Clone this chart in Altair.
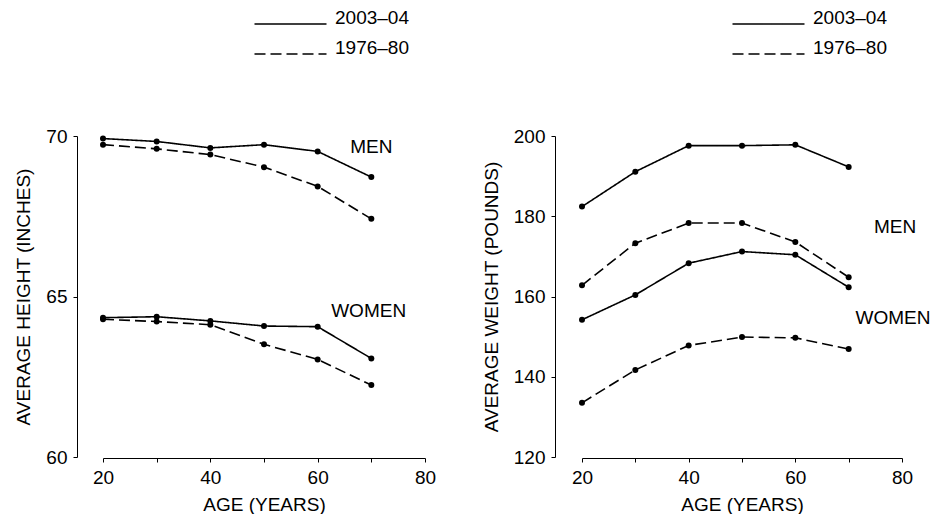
import altair as alt
import pandas as pd

ages = [20, 30, 40, 50, 60, 70]
periods = ["2003–04", "1976–80"]
sexes = ["MEN", "WOMEN"]

height_men_2003 = [69.92, 69.83, 69.63, 69.73, 69.52, 68.72]
height_men_1976 = [69.73, 69.60, 69.42, 69.03, 68.43, 67.42]
height_women_2003 = [64.34, 64.37, 64.24, 64.08, 64.06, 63.07]
height_women_1976 = [64.29, 64.22, 64.12, 63.51, 63.04, 62.24]

weight_men_2003 = [182.4, 191.1, 197.6, 197.6, 197.8, 192.3]
weight_men_1976 = [162.8, 173.3, 178.3, 178.3, 173.6, 164.8]
weight_women_2003 = [154.2, 160.4, 168.3, 171.2, 170.4, 162.3]
weight_women_1976 = [133.5, 141.7, 147.8, 149.9, 149.7, 146.9]

label_text = ["MEN", "WOMEN"]
height_label_age = [70.0, 69.5]
height_label_value = [69.66, 64.55]
weight_label_age = [78.7, 78.3]
weight_label_value = [177.2, 154.6]

x_ticks = [20, 30, 40, 50, 60, 70, 80]
height_ticks = [60, 65, 70]
weight_ticks = [120, 140, 160, 180, 200]

FONT = "Liberation Sans"


def long_df(men_new, men_old, women_new, women_old):
    rows = []
    for sex, period, vals in [
        ("MEN", periods[0], men_new),
        ("MEN", periods[1], men_old),
        ("WOMEN", periods[0], women_new),
        ("WOMEN", periods[1], women_old),
    ]:
        for a, v in zip(ages, vals):
            rows.append({"age": a, "value": v, "sex": sex, "period": period})
    return pd.DataFrame(rows)


height_df = long_df(height_men_2003, height_men_1976, height_women_2003, height_women_1976)
weight_df = long_df(weight_men_2003, weight_men_1976, weight_women_2003, weight_women_1976)
height_labels = pd.DataFrame({"age": height_label_age, "value": height_label_value, "label": label_text})
weight_labels = pd.DataFrame({"age": weight_label_age, "value": weight_label_value, "label": label_text})


def panel(df, labels, ydomain, yticks, ytitle, yoffset, legend_x, legend_y, width, height):
    x = alt.X(
        "age:Q",
        scale=alt.Scale(domain=[20, 80], nice=False, zero=False),
        axis=alt.Axis(
            values=x_ticks,
            labelExpr="datum.value % 20 == 0 ? datum.label : ''",
            title="AGE (YEARS)",
            offset=1,
            labelPadding=6,
            titlePadding=8,
            labelFlush=False,
        ),
    )
    y = alt.Y(
        "value:Q",
        scale=alt.Scale(domain=ydomain, nice=False, zero=False),
        axis=alt.Axis(
            values=yticks,
            title=ytitle,
            offset=yoffset,
            labelPadding=6,
            titlePadding=12,
            labelFlush=False,
        ),
    )
    dash = alt.StrokeDash(
        "period:N",
        scale=alt.Scale(domain=periods, range=[[1, 0], [11, 5]]),
        legend=alt.Legend(
            title=None,
            orient="none",
            direction="vertical",
            legendX=legend_x,
            legendY=legend_y,
            symbolType="M-7.2,1.3H7.2",
            symbolSize=100,
            symbolStrokeWidth=1.4,
            symbolStrokeColor="black",
            labelFontSize=19,
            labelFont=FONT,
            labelColor="black",
            labelOffset=35,
            rowPadding=10,
            padding=0,
        ),
    )
    base = alt.Chart(df)
    lines = base.mark_line(color="black", strokeWidth=1.6).encode(
        x=x, y=y, strokeDash=dash, detail="sex:N"
    )
    points = base.mark_point(filled=True, size=36, color="black", opacity=1).encode(x=x, y=y)
    text = alt.Chart(labels).mark_text(fontSize=19, font=FONT, color="black").encode(
        x=x, y=y, text="label:N"
    )
    return alt.layer(lines, points, text).properties(width=width, height=height)


left = panel(height_df, height_labels, [60, 70], height_ticks,
             "AVERAGE HEIGHT (INCHES)", 26, 178, -128, 322, 321)
right = panel(weight_df, weight_labels, [120, 200], weight_ticks,
              "AVERAGE WEIGHT (POUNDS)", 27, 177, -128, 320, 321)

chart = (
    alt.hconcat(left, right, spacing=46)
    .resolve_scale(strokeDash="independent")
    .resolve_legend(strokeDash="independent")
    .properties(padding={"left": 6, "top": 0, "right": 0, "bottom": 0})
    .configure(font=FONT)
    .configure_view(stroke=None)
    .configure_axis(
        grid=False,
        domainColor="black",
        tickColor="black",
        domainWidth=1,
        tickWidth=1,
        tickSize=4,
        labelFontSize=19,
        titleFontSize=19,
        titleFontWeight="normal",
        labelColor="black",
        titleColor="black",
        labelFont=FONT,
        titleFont=FONT,
    )
)

chart.save("out.html", embed_options={"renderer": "svg", "actions": False})
